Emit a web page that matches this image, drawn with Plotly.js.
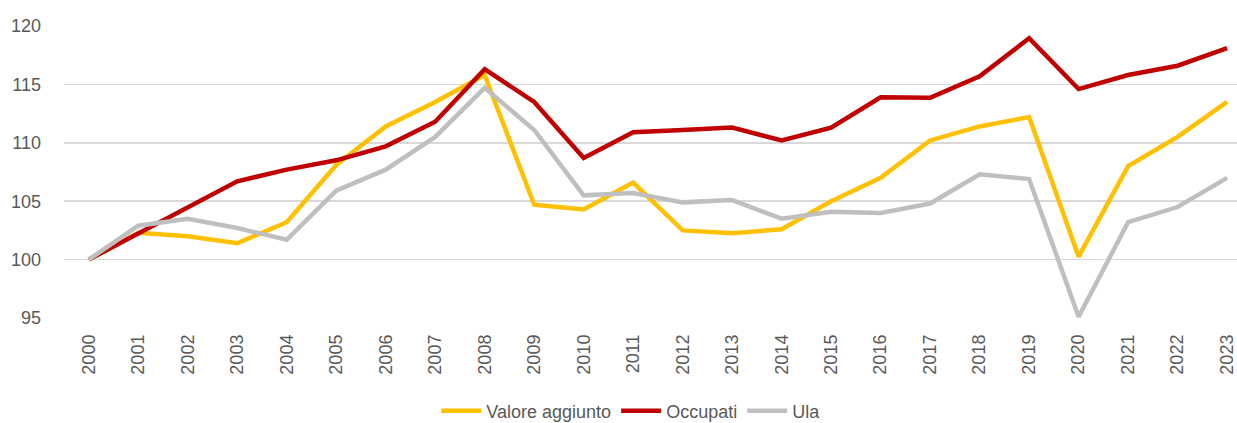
<!DOCTYPE html>
<html>
<head>
<meta charset="utf-8">
<script src="https://cdn.plot.ly/plotly-3.0.1.min.js"></script>
<style>html,body{margin:0;padding:0;background:#fff;}#chart{width:1237px;height:423px;}</style>
</head>
<body>
<div id="chart"></div>
<script>
const years = ["2000","2001","2002","2003","2004","2005","2006","2007","2008","2009","2010","2011","2012","2013","2014","2015","2016","2017","2018","2019","2020","2021","2022","2023"];
const valoreAggiunto = [100,102.3,102.0,101.4,103.2,108.1,111.4,113.5,115.8,104.7,104.3,106.6,102.5,102.25,102.6,105.0,107.0,110.2,111.4,112.2,100.25,108.0,110.5,113.5];
const occupati = [100,102.2,104.4,106.7,107.7,108.5,109.7,111.8,116.3,113.5,108.7,110.9,111.1,111.3,110.2,111.3,113.9,113.85,115.7,118.95,114.6,115.8,116.6,118.1];
const ula = [100,102.9,103.5,102.7,101.7,105.9,107.7,110.5,114.7,111.1,105.5,105.7,104.9,105.1,103.5,104.1,104.0,104.8,107.3,106.9,95.1,103.2,104.5,107.0];
const yTicks = [95,100,105,110,115,120];

const mk = (name, y, color) => ({
  type: 'scatter', mode: 'lines', name: name, x: years, y: y,
  line: {color: color, width: 4.5, shape: 'linear'}, hoverinfo: 'x+y'
});

const data = [
  mk('Valore aggiunto', valoreAggiunto, '#FFC000'),
  mk('Occupati', occupati, '#C00000'),
  mk('Ula', ula, '#BFBFBF')
];

const layout = {
  width: 1237, height: 423,
  margin: {l: 64, r: 0, t: 26, b: 105},
  paper_bgcolor: '#fff', plot_bgcolor: '#fff',
  font: {family: '"Liberation Sans", Arial, sans-serif', size: 18, color: '#595959'},
  showlegend: true,
  legend: {orientation: 'h', x: 0.51, xanchor: 'center', xref: 'container', y: 0.028, yanchor: 'middle', yref: 'container', font: {size: 18, color: '#595959'}, entrywidth: 0, itemwidth: 40, traceorder: 'normal'},
  xaxis: {type: 'category', range: [-0.5, 23.2], tickangle: -90, showgrid: false, zeroline: false, showline: false, ticks: '', ticklabelstandoff: 12, tickfont: {size: 18, color: '#595959'}, fixedrange: true},
  yaxis: {range: [95, 120], tickvals: yTicks, ticktext: yTicks.map(String), showgrid: true, gridcolor: '#D9D9D9', gridwidth: 1.5, zeroline: false, showline: false, ticks: '', ticklabelstandoff: 22, tickfont: {size: 18, color: '#595959'}, fixedrange: true}
};

Plotly.newPlot('chart', data, layout, {displayModeBar: false, staticPlot: true});
</script>
</body>
</html>
